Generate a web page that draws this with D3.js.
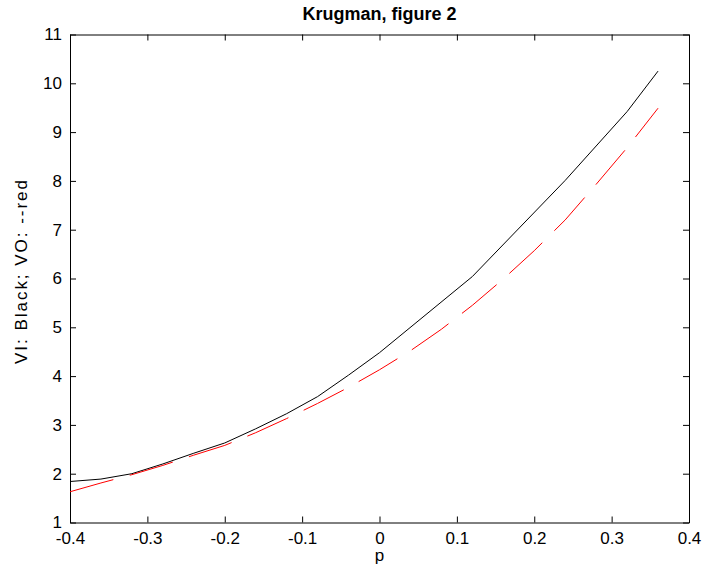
<!DOCTYPE html>
<html>
<head>
	<meta charset="utf-8">
	<title>Krugman, figure 2</title>
	<script src="https://d3js.org/d3.v7.min.js"></script>
	<style>
	body{
		margin: 0;
		background: #fff;
		font-family: "Liberation Sans", Arial, sans-serif;
	}
	.axis text{
		font-size: 17px;
		fill: #000;
	}
	.axis path, .axis line{
		stroke: #000;
	}
	</style>
</head>
<body>
<svg id="chart" width="703" height="575"></svg>
<script>
// values
var pBlack = [-0.4, -0.36, -0.32, -0.28, -0.24, -0.2, -0.16, -0.12, -0.08, -0.04, 0, 0.12, 0.24, 0.32, 0.36];
var viBlack = [1.84, 1.89, 2.0, 2.2, 2.42, 2.63, 2.92, 3.23, 3.58, 4.02, 4.48, 6.04, 8.01, 9.42, 10.25];

var pRed = [-0.4, -0.36, -0.32, -0.28, -0.24, -0.2, -0.16, -0.12, -0.08, -0.04, 0, 0.04, 0.08, 0.12, 0.16, 0.2, 0.24, 0.28, 0.32, 0.36];
var voRed = [1.63, 1.81, 1.98, 2.17, 2.38, 2.58, 2.84, 3.13, 3.44, 3.77, 4.13, 4.52, 4.96, 5.45, 5.99, 6.57, 7.2, 7.93, 8.68, 9.49];

var xTicks = [-0.4, -0.3, -0.2, -0.1, 0, 0.1, 0.2, 0.3, 0.4];
var yTicks = [1, 2, 3, 4, 5, 6, 7, 8, 9, 10, 11];

var plotLeft = 70, plotRight = 689, plotTop = 34.5, plotBottom = 522.5;

var svg = d3.select("#chart");

var x = d3.scaleLinear().domain([-0.4, 0.4]).range([plotLeft, plotRight]);
var y = d3.scaleLinear().domain([1, 11]).range([plotBottom, plotTop]);

var fmt = function(d){ return String(+d.toFixed(1)); };

// axes, ticks pointing inwards on all four sides
svg.append("g")
	.attr("class", "axis")
	.attr("transform", "translate(0," + plotBottom + ")")
	.call(d3.axisBottom(x).tickValues(xTicks).tickFormat(fmt).tickSizeInner(-6).tickSizeOuter(0).tickPadding(9));
svg.append("g")
	.attr("class", "axis")
	.attr("transform", "translate(0," + plotTop + ")")
	.call(d3.axisTop(x).tickValues(xTicks).tickFormat("").tickSizeInner(-6).tickSizeOuter(0));
svg.append("g")
	.attr("class", "axis")
	.attr("transform", "translate(" + plotLeft + ",0)")
	.call(d3.axisLeft(y).tickValues(yTicks).tickFormat(fmt).tickSizeInner(-6).tickSizeOuter(0).tickPadding(8));
svg.append("g")
	.attr("class", "axis")
	.attr("transform", "translate(" + plotRight + ",0)")
	.call(d3.axisRight(y).tickValues(yTicks).tickFormat("").tickSizeInner(-6).tickSizeOuter(0));

svg.selectAll(".axis text").attr("font-family", "Liberation Sans, Arial, sans-serif");

// lines
var lineBlack = d3.line()
	.x(function(d, i){ return x(pBlack[i]); })
	.y(function(d){ return y(d); });
var lineRed = d3.line()
	.x(function(d, i){ return x(pRed[i]); })
	.y(function(d){ return y(d); });

svg.append("path")
	.attr("d", lineBlack(viBlack))
	.attr("fill", "none")
	.attr("stroke", "#000")
	.attr("stroke-width", 1);

svg.append("path")
	.attr("d", lineRed(voRed))
	.attr("fill", "none")
	.attr("stroke", "#ff0000")
	.attr("stroke-width", 1)
	.attr("stroke-dasharray", "45,17");

// title and labels
svg.append("text")
	.attr("x", (plotLeft + plotRight) / 2)
	.attr("y", 20)
	.attr("text-anchor", "middle")
	.attr("font-size", "18px")
	.attr("font-weight", "bold")
	.text("Krugman, figure 2");

svg.append("text")
	.attr("x", (plotLeft + plotRight) / 2)
	.attr("y", 561)
	.attr("text-anchor", "middle")
	.attr("font-size", "17px")
	.text("p");

svg.append("text")
	.attr("transform", "translate(27,272) rotate(-90)")
	.attr("text-anchor", "middle")
	.attr("font-size", "17px")
	.attr("textLength", 184)
	.attr("lengthAdjust", "spacing")
	.text("VI: Black; VO: --red");
</script>
</body>
</html>
